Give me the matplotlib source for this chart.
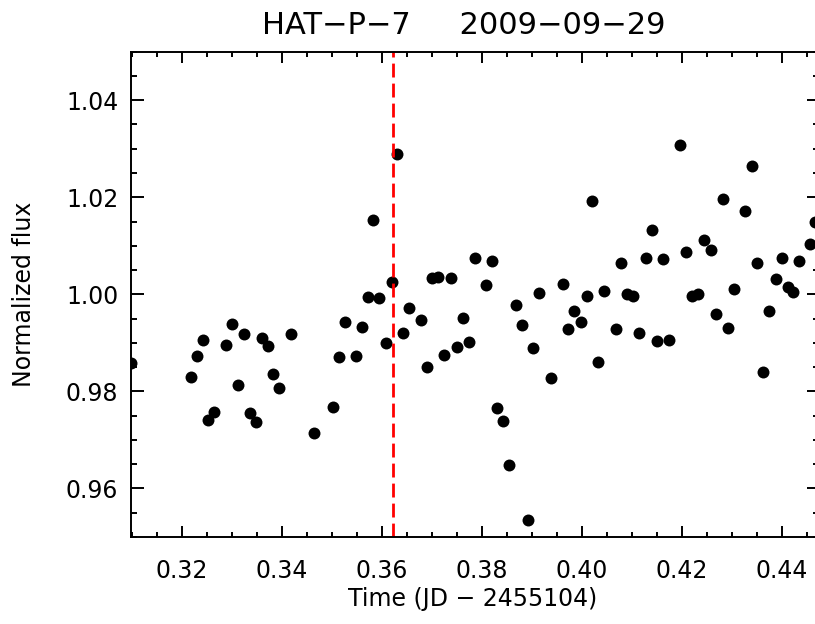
import numpy as np
import matplotlib
matplotlib.use("Agg")
import matplotlib.pyplot as plt
from matplotlib.ticker import MultipleLocator

# HAT-P-7 light curve, 2009-09-29 (time in JD - 2455104)
time = [0.3098, 0.3219, 0.3231, 0.3243, 0.3253, 0.3265, 0.3289, 0.3301,
        0.3312, 0.3324, 0.3336, 0.3349, 0.3360, 0.3373, 0.3383, 0.3395,
        0.3419, 0.3465, 0.3503, 0.3514, 0.3526, 0.3549, 0.3561, 0.3572,
        0.3583, 0.3595, 0.3609, 0.3621, 0.3630, 0.3643, 0.3655, 0.3678,
        0.3691, 0.3701, 0.3713, 0.3725, 0.3739, 0.3751, 0.3763, 0.3774,
        0.3786, 0.3808, 0.3821, 0.3831, 0.3843, 0.3855, 0.3869, 0.3881,
        0.3892, 0.3903, 0.3915, 0.3938, 0.3962, 0.3973, 0.3985, 0.3999,
        0.4010, 0.4021, 0.4033, 0.4045, 0.4068, 0.4079, 0.4091, 0.4103,
        0.4115, 0.4128, 0.4141, 0.4151, 0.4163, 0.4175, 0.4197, 0.4209,
        0.4221, 0.4233, 0.4245, 0.4259, 0.4269, 0.4282, 0.4293, 0.4304,
        0.4327, 0.4340, 0.4351, 0.4363, 0.4375, 0.4388, 0.4400, 0.4412,
        0.4423, 0.4435, 0.4457, 0.4467]
flux = [0.9858, 0.9829, 0.9872, 0.9906, 0.9742, 0.9757, 0.9896, 0.9938,
        0.9814, 0.9918, 0.9755, 0.9736, 0.9910, 0.9893, 0.9836, 0.9807,
        0.9918, 0.9715, 0.9768, 0.9870, 0.9944, 0.9873, 0.9933, 0.9994,
        1.0153, 0.9993, 0.9899, 1.0026, 1.0289, 0.9921, 0.9971, 0.9947,
        0.9850, 1.0034, 1.0036, 0.9875, 1.0034, 0.9892, 0.9952, 0.9901,
        1.0075, 1.0020, 1.0068, 0.9766, 0.9738, 0.9649, 0.9979, 0.9936,
        0.9535, 0.9890, 1.0002, 0.9828, 1.0021, 0.9929, 0.9966, 0.9942,
        0.9997, 1.0193, 0.9861, 1.0007, 0.9928, 1.0064, 1.0001, 0.9997,
        0.9920, 1.0075, 1.0132, 0.9904, 1.0073, 0.9906, 1.0308, 1.0088,
        0.9997, 1.0000, 1.0113, 1.0092, 0.9960, 1.0197, 0.9931, 1.0010,
        1.0172, 1.0264, 1.0065, 0.9841, 0.9966, 1.0031, 1.0075, 1.0016,
        1.0005, 1.0069, 1.0103, 1.0149]
t_mark = 0.3623

W, H = 815, 624
fig = plt.figure(figsize=(W / 100, H / 100), dpi=100)
# right spine sits just past the image edge, as in the original crop
ax = fig.add_axes([130.7 / W, (H - 537) / H, (819 - 130.7) / W, (537 - 51.7) / H])

ax.plot(time, flux, 'o', color='black', ms=8.6, mew=0)
ax.axvline(t_mark, color='red', lw=2.0, ls=(0, (5, 2.2)))

ax.set_xlim(0.3098, 0.44746)
ax.set_ylim(0.95, 1.05)

ax.xaxis.set_major_locator(MultipleLocator(0.02))
ax.xaxis.set_minor_locator(MultipleLocator(0.005))
ax.yaxis.set_major_locator(MultipleLocator(0.02))
ax.yaxis.set_minor_locator(MultipleLocator(0.005))
ax.xaxis.set_major_formatter(plt.FuncFormatter(lambda v, p: f"{v:.2f}"))
ax.yaxis.set_major_formatter(plt.FuncFormatter(lambda v, p: f"{v:.2f}"))

for s in ax.spines.values():
    s.set_linewidth(1.4)
ax.tick_params(which='both', direction='in', top=True, right=True, width=1.4)
ax.tick_params(axis='x', which='major', length=7.7, pad=16, labelsize=17)
ax.tick_params(axis='x', which='minor', length=3.5)
ax.tick_params(axis='y', which='major', length=9, pad=9, labelsize=17)
ax.tick_params(axis='y', which='minor', length=4.3)

ax.set_xlabel('Time (JD − 2455104)', fontsize=17, va='center')
ax.xaxis.set_label_coords((473 - 130.7) / 688.3, (537 - 599) / 485.3)
ax.set_ylabel('Normalized flux', fontsize=17, va='center')
ax.yaxis.set_label_coords((24 - 130.7) / 688.3, 0.5)

fig.text(463.5 / W, (H - 25) / H, 'HAT−P−7     2009−09−29', fontsize=22,
         ha='center', va='center')

fig.savefig('out.png', dpi=100)
